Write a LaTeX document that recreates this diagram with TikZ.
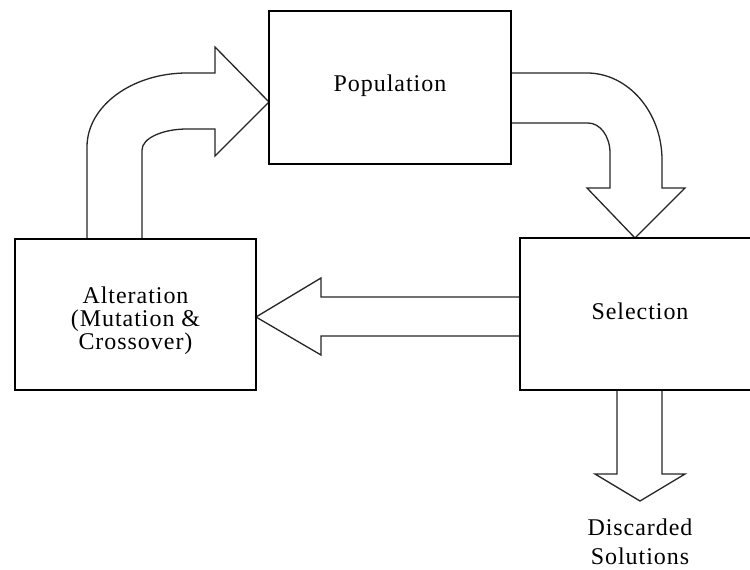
\documentclass[tikz,border=0pt]{standalone}
\usepackage{fontspec}
\setmainfont{Liberation Serif}
\begin{document}
\begin{tikzpicture}[x=1pt,y=-1pt,
  box/.style={draw=black,line width=1.3pt},
  bigarrow/.style={draw=black!85,line width=1.3pt,line join=miter,fill=white},
  lbl/.style={font=\fontsize{24}{23}\selectfont\addfontfeature{LetterSpace=4},align=center,inner sep=0pt}]
\useasboundingbox (0,0) rectangle (750,570);
\clip (0,0) rectangle (750,570);
% top-left bent arrow
\draw[bigarrow] (87,239) -- (87,147) .. controls (87,106) and (132,73) .. (187,73)
  -- (215,73) -- (215,47) -- (269,102) -- (215,156) -- (215,129) -- (187,129)
  .. controls (163,129) and (142,138) .. (142,150) -- (142,239);
% top-right bent arrow
\draw[bigarrow] (511,73) -- (587,73) .. controls (628,73) and (662,112) .. (662,160)
  -- (662,188) -- (685,188) -- (635,238) -- (587,188) -- (610,188) -- (610,153)
  .. controls (610,136) and (600,123) .. (588,123) -- (511,123);
% middle arrow
\draw[bigarrow] (520,297) -- (321,297) -- (321,278) -- (256,317) -- (321,355) -- (321,336) -- (520,336);
% bottom arrow
\draw[bigarrow] (617,390) -- (617,474) -- (595,474) -- (640,501) -- (685,474) -- (662,474) -- (662,390);
% boxes
\draw[box] (269,11) rectangle (511,164);
\node[lbl] (pop) at (390,86) {Population};
\draw[box] (15,239) rectangle (256,390);
\node[lbl] (alt) at (135.5,321) {Alteration\\(Mutation \&\\Crossover)};
\draw[box] (760,238) -- (520,238) -- (520,390) -- (760,390);
\node[lbl] (sel) at (640,311) {Selection};
\node[lbl,font=\fontsize{24}{29}\selectfont\addfontfeature{LetterSpace=4}] (disc) at (640,542) {Discarded\\Solutions};
\end{tikzpicture}
\end{document}
